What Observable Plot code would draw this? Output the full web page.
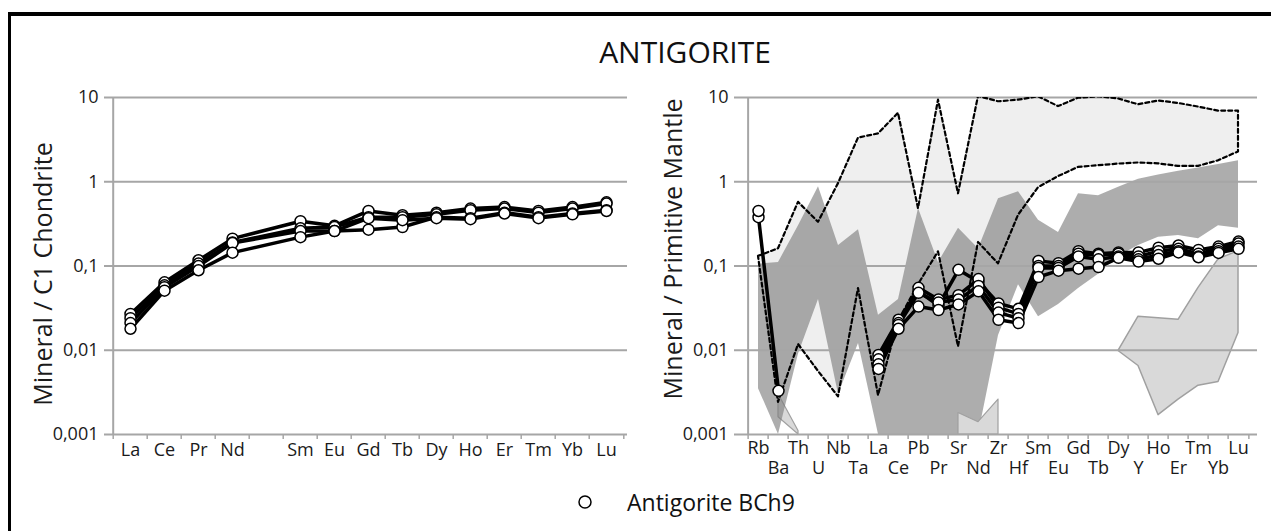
<!DOCTYPE html>
<html><head><meta charset="utf-8">
<script src="https://cdn.jsdelivr.net/npm/d3@7"></script>
<script src="https://cdn.jsdelivr.net/npm/@observablehq/plot@0.6"></script>
<style>
body{margin:0;background:#fff;font-family:"Open Sans",sans-serif;}
#wrap{position:relative;width:1271px;height:531px;overflow:hidden;background:#fff;}
.bt{position:absolute;left:8px;top:12px;width:1263px;height:4px;background:#000;}
.bl{position:absolute;left:8px;top:12px;width:3px;height:519px;background:#000;}
#title{position:absolute;left:485px;width:400px;top:36px;text-align:center;font-size:30px;line-height:32px;color:#111;}
#left{position:absolute;left:0;top:80px;}
#right{position:absolute;left:630px;top:80px;}
#legend{position:absolute;left:577px;top:489px;height:26px;display:flex;align-items:center;font-size:23px;color:#111;}
#legend svg{margin-right:34px;}
</style></head><body>
<div id="wrap">
<div class="bt"></div><div class="bl"></div>
<div id="title">ANTIGORITE</div>
<div id="left"></div>
<div id="right"></div>
<div id="legend"><svg width="16" height="16"><circle cx="8" cy="8" r="6" fill="#fff" stroke="#000" stroke-width="1.5"></circle></svg><span>Antigorite BCh9</span></div>
</div>
<script>
// ---------- DATA ----------
const yTicks = [0.001, 0.01, 0.1, 1, 10];

// Left panel: chondrite-normalised REE (Pm slot empty)
const reeCats = ["La","Ce","Pr","Nd","Pm","Sm","Eu","Gd","Tb","Dy","Ho","Er","Tm","Yb","Lu"];
const reeS1 = [0.027,0.064,0.117,0.211,null,0.34,0.30,0.45,0.40,0.43,0.48,0.50,0.45,0.50,0.57];
const reeS2 = [0.024,0.059,0.107,0.190,null,0.28,0.29,0.38,0.38,0.41,0.46,0.48,0.43,0.48,0.55];
const reeS3 = [0.021,0.056,0.100,0.187,null,0.26,0.26,0.27,0.29,0.38,0.37,0.43,0.38,0.42,0.46];
const reeS4 = [0.018,0.051,0.089,0.144,null,0.22,0.26,0.37,0.35,0.37,0.36,0.42,0.37,0.41,0.45];

// Right panel: primitive-mantle-normalised spider diagram
const spCats = ["Rb","Ba","Th","U","Nb","Ta","La","Ce","Pb","Pr","Sr","Nd","Zr","Hf","Sm","Eu","Gd","Tb","Dy","Y","Ho","Er","Tm","Yb","Lu"];
const spS1 = [0.38,0.0033,null,null,null,null,0.0088,0.023,0.050,0.034,0.090,0.065,0.036,0.031,0.115,0.108,0.150,0.140,0.145,0.145,0.165,0.175,0.155,0.170,0.195];
const spS2 = [0.45,null,null,null,null,null,0.0078,0.021,0.055,0.040,0.045,0.070,0.032,0.027,0.100,0.100,0.140,0.135,0.140,0.130,0.150,0.160,0.140,0.160,0.185];
const spS3 = [null,null,null,null,null,null,0.0068,0.020,0.048,0.037,0.040,0.058,0.028,0.024,0.095,0.095,0.130,0.120,0.130,0.120,0.135,0.150,0.130,0.150,0.170];
const spS4 = [null,null,null,null,null,null,0.0060,0.018,0.033,0.030,0.035,0.050,0.023,0.021,0.074,0.088,0.093,0.097,0.125,0.113,0.122,0.145,0.127,0.143,0.160];

// Reference field bounded by dashed lines (light)
const fieldALo = [0.13,0.0024,0.0117,0.0056,0.0028,0.054,0.0029,0.022,0.06,0.147,0.011,0.19,0.106,0.40,0.85,1.15,1.48,1.55,1.62,1.67,1.63,1.52,1.52,1.77,2.26];
const fieldAHi = [0.13,0.16,0.57,0.33,0.95,3.3,3.7,6.5,0.48,9.3,0.72,10.3,8.9,9.3,10.2,7.8,9.8,10.2,9.6,8.2,9.1,8.5,7.7,6.9,6.9];
// Reference field (medium grey)
const fieldBLo = [0.0035,0.001,0.009,0.04,0.003,0.012,0.001,0.001,0.001,0.001,0.001,0.001,0.015,0.06,0.025,0.035,0.054,0.08,0.13,0.175,0.22,0.23,0.21,0.30,0.28];
const fieldBHi = [0.105,0.11,0.30,0.87,0.175,0.27,0.026,0.04,0.48,0.11,0.28,0.16,0.63,0.76,0.35,0.25,0.72,0.68,0.86,1.07,1.20,1.33,1.46,1.60,1.77];
// Reference field (light grey, outlined) Dy..Lu
const fieldCCats = ["Dy","Y","Ho","Er","Tm","Yb","Lu"];
const fieldCLo = [0.0098,0.0065,0.0017,0.0026,0.0038,0.0042,0.016];
const fieldCHi = [0.0098,0.025,0.024,0.023,0.055,0.12,0.15];
// small light-grey fields near the base
const fieldDCats = ["Ba","Th"];
const fieldDLo = [0.0016,0.001];
const fieldDHi = [0.003,0.0011];
const fieldECats = ["Sr","Nd","Zr"];
const fieldELo = [0.001,0.001,0.001];
const fieldEHi = [0.0018,0.0014,0.0026];

// ---------- HELPERS ----------
const fmt = d => String(d).replace(".", ",");
const GRID = "#a6a6a6";
const TXT = "#1a1a1a";
const FONT = "'Open Sans', sans-serif";

function seriesRows(cats, list, keepNull) {
  const rows = [];
  list.forEach((vals, s) => cats.forEach((c, i) => {
    const v = vals[i];
    if (v == null && !keepNull) return;
    rows.push({s, c, v: v == null ? NaN : v});
  }));
  return rows;
}
function bandRows(cats, lo, hi) { return cats.map((c, i) => ({c, lo: lo[i], hi: hi[i]})); }

function frameMarks(cats, step) {
  return [
    Plot.ruleX([cats[0]], {x: d => d, y1: 0.001, y2: 10, dx: -step / 2, stroke: GRID, strokeWidth: 2}),
    Plot.ruleX(cats, {x: d => d, y1: 0.001, y2: 0.001, insetBottom: -5, dx: -step / 2, stroke: GRID, strokeWidth: 1.5}),
    Plot.ruleX([cats[cats.length - 1]], {x: d => d, y1: 0.001, y2: 0.001, insetBottom: -5, dx: step / 2, stroke: GRID, strokeWidth: 1.5}),
    Plot.axisY(yTicks, {tickSize: 0, tickPadding: 10, tickFormat: fmt, fontSize: 18, fill: TXT, label: null})
  ];
}

// ---------- LEFT PANEL ----------
{
  const W = 630, H = 400, mL = 108, mR = 3, mT = 17, mB = 46;
  const step = (W - mL - mR) / reeCats.length;
  const rows = seriesRows(reeCats, [reeS1, reeS2, reeS3, reeS4], false);
  const chart = Plot.plot({
    width: W, height: H, marginLeft: mL, marginRight: mR, marginTop: mT, marginBottom: mB,
    style: {background: "transparent", fontFamily: FONT, overflow: "visible", maxWidth: "none"},
    x: {type: "point", domain: reeCats, padding: 0.5, axis: null},
    y: {type: "log", domain: [0.001, 10], axis: null},
    marks: [
      Plot.ruleY(yTicks, {stroke: GRID, strokeWidth: 2, insetLeft: -4}),
      ...frameMarks(reeCats, step),
      Plot.axisX(reeCats, {tickSize: 0, tickPadding: 9, fontSize: 18, fill: TXT, label: null, tickFormat: d => d === "Pm" ? "" : d}),
      Plot.text(["Mineral / C1 Chondrite"], {frameAnchor: "left", textAnchor: "middle", text: d => d, rotate: -90, dx: -65, dy: 8, fontSize: 25, fill: TXT}),
      Plot.line(rows, {x: "c", y: "v", z: "s", stroke: "#000", strokeWidth: 3.5}),
      Plot.dot(rows, {x: "c", y: "v", r: 5.5, fill: "#fff", stroke: "#000", strokeWidth: 1.5})
    ]
  });
  document.getElementById("left").append(chart);
}

// ---------- RIGHT PANEL ----------
{
  const W = 641, H = 400, mL = 108, mR = 14, mT = 17, mB = 46;
  const step = (W - mL - mR) / spCats.length;
  const lineRows = seriesRows(spCats, [spS1, spS2, spS3, spS4], true);
  const dotRows = seriesRows(spCats, [spS1, spS2, spS3, spS4], false);
  const fA = bandRows(spCats, fieldALo, fieldAHi);
  const fB = bandRows(spCats, fieldBLo, fieldBHi);
  const fC = bandRows(fieldCCats, fieldCLo, fieldCHi);
  const fD = bandRows(fieldDCats, fieldDLo, fieldDHi);
  const fE = bandRows(fieldECats, fieldELo, fieldEHi);
  const chart = Plot.plot({
    width: W, height: H, marginLeft: mL, marginRight: mR, marginTop: mT, marginBottom: mB,
    style: {background: "transparent", fontFamily: FONT, overflow: "visible", maxWidth: "none"},
    x: {type: "point", domain: spCats, padding: 0.5, axis: null},
    y: {type: "log", domain: [0.001, 10], axis: null},
    marks: [
      Plot.areaY(fA, {x: "c", y1: "lo", y2: "hi", fill: "#efefef", clip: true}),
      Plot.areaY(fD, {x: "c", y1: "lo", y2: "hi", fill: "#d9d9d9", stroke: "#a0a0a0", strokeWidth: 1.2, clip: true}),
      Plot.areaY(fC, {x: "c", y1: "lo", y2: "hi", fill: "#d9d9d9", stroke: "#a0a0a0", strokeWidth: 1.5, clip: true}),
      Plot.areaY(fB, {x: "c", y1: "lo", y2: "hi", fill: "#7a7a7a", fillOpacity: 0.62, clip: true}),
      Plot.areaY(fE, {x: "c", y1: "lo", y2: "hi", fill: "#d9d9d9", stroke: "#a0a0a0", strokeWidth: 1.2, clip: true}),
      Plot.ruleY(yTicks, {stroke: GRID, strokeWidth: 2, insetLeft: -4}),
      Plot.areaY(fA, {x: "c", y1: "lo", y2: "hi", fill: "none", stroke: "#000", strokeWidth: 2.2, strokeDasharray: "4,3", clip: true}),
      ...frameMarks(spCats, step),
      Plot.axisX(spCats.filter((d, i) => i % 2 === 0), {tickSize: 0, tickPadding: 7, fontSize: 18, fill: TXT, label: null}),
      Plot.axisX(spCats.filter((d, i) => i % 2 === 1), {tickSize: 0, tickPadding: 27, fontSize: 18, fill: TXT, label: null}),
      Plot.text(["Mineral / Primitive Mantle"], {frameAnchor: "left", textAnchor: "middle", text: d => d, rotate: -90, dx: -65, dy: -17, fontSize: 25, fill: TXT}),
      Plot.line(lineRows, {x: "c", y: "v", z: "s", stroke: "#000", strokeWidth: 3.5}),
      Plot.dot(dotRows, {x: "c", y: "v", r: 5.5, fill: "#fff", stroke: "#000", strokeWidth: 1.5})
    ]
  });
  document.getElementById("right").append(chart);
}
</script>
</body></html>
